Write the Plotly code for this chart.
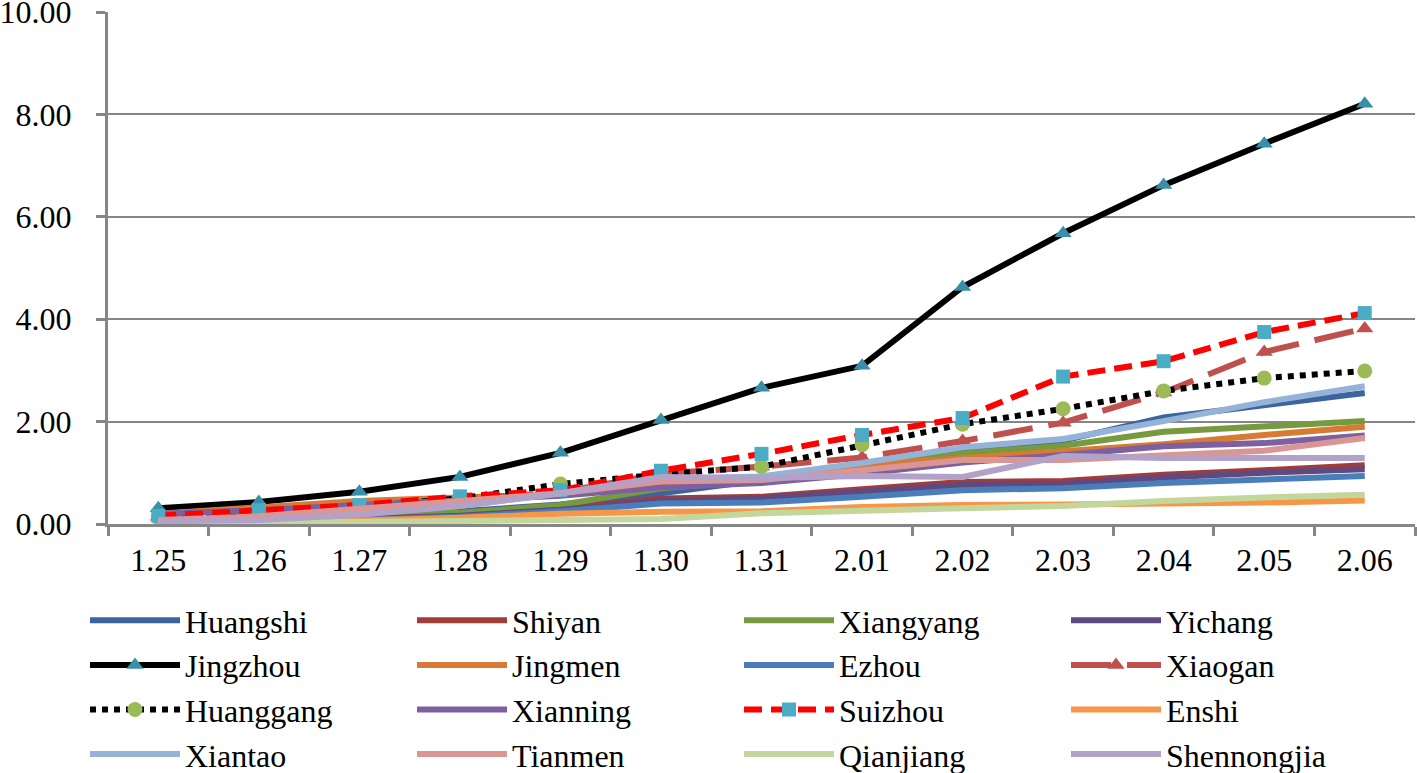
import plotly.graph_objects as go

dates = ["1.25", "1.26", "1.27", "1.28", "1.29", "1.30", "1.31",
         "2.01", "2.02", "2.03", "2.04", "2.05", "2.06"]

huangshi    = [0.05, 0.10, 0.17, 0.25, 0.38, 0.60, 0.85, 1.12, 1.45, 1.63, 2.08, 2.32, 2.56]
shiyan      = [0.03, 0.06, 0.10, 0.18, 0.30, 0.50, 0.53, 0.68, 0.82, 0.84, 0.96, 1.05, 1.15]
xiangyang   = [0.05, 0.10, 0.15, 0.22, 0.37, 0.70, 0.85, 1.10, 1.38, 1.53, 1.80, 1.91, 2.01]
yichang     = [0.03, 0.05, 0.10, 0.16, 0.28, 0.45, 0.50, 0.63, 0.76, 0.78, 0.91, 1.00, 1.07]
jingzhou    = [0.31, 0.43, 0.63, 0.92, 1.39, 2.03, 2.66, 3.09, 4.63, 5.68, 6.62, 7.43, 8.21]
jingmen     = [0.20, 0.33, 0.45, 0.52, 0.58, 0.72, 0.88, 1.15, 1.28, 1.42, 1.56, 1.74, 1.90]
ezhou       = [0.02, 0.04, 0.08, 0.14, 0.25, 0.40, 0.42, 0.53, 0.66, 0.70, 0.80, 0.87, 0.94]
xiaogan     = [0.14, 0.22, 0.32, 0.48, 0.62, 0.98, 1.12, 1.30, 1.62, 1.98, 2.57, 3.36, 3.82]
huanggang   = [0.13, 0.22, 0.34, 0.50, 0.78, 0.97, 1.12, 1.55, 1.95, 2.25, 2.60, 2.85, 2.99]
xianning    = [0.20, 0.27, 0.37, 0.45, 0.55, 0.72, 0.80, 0.98, 1.20, 1.35, 1.52, 1.58, 1.73]
suizhou     = [0.16, 0.27, 0.37, 0.54, 0.66, 1.04, 1.37, 1.74, 2.07, 2.88, 3.18, 3.75, 4.12]
enshi       = [0.02, 0.04, 0.07, 0.12, 0.20, 0.24, 0.25, 0.33, 0.37, 0.38, 0.39, 0.42, 0.46]
xiantao     = [0.05, 0.10, 0.20, 0.35, 0.60, 0.88, 0.93, 1.19, 1.50, 1.66, 2.01, 2.38, 2.69]
tianmen     = [0.08, 0.15, 0.30, 0.45, 0.60, 0.83, 0.86, 1.05, 1.25, 1.25, 1.35, 1.43, 1.68]
qianjiang   = [0.01, 0.02, 0.04, 0.06, 0.08, 0.10, 0.21, 0.27, 0.31, 0.35, 0.45, 0.52, 0.57]
shennongjia = [0.05, 0.08, 0.18, 0.35, 0.60, 0.92, 0.90, 0.94, 0.92, 1.33, 1.29, 1.29, 1.29]

y_ticks = [0, 2, 4, 6, 8, 10]

series = [
    ("Huangshi", huangshi, dict(color="#3B64A0", width=6), None),
    ("Shiyan", shiyan, dict(color="#A23C3A", width=6), None),
    ("Xiangyang", xiangyang, dict(color="#779A3E", width=6), None),
    ("Yichang", yichang, dict(color="#5F4A80", width=6), None),
    ("Jingzhou", jingzhou, dict(color="#000000", width=6),
     dict(symbol="triangle-up", size=15, color="#3A8FA8")),
    ("Jingmen", jingmen, dict(color="#D77A33", width=6), None),
    ("Ezhou", ezhou, dict(color="#4A7EBB", width=6), None),
    ("Xiaogan", xiaogan, dict(color="#C0504D", width=6, dash="40px,16px"),
     dict(symbol="triangle-up", size=15, color="#C0504D")),
    ("Huanggang", huanggang, dict(color="#000000", width=6, dash="6px,6px"),
     dict(symbol="circle", size=15, color="#9BBB59")),
    ("Xianning", xianning, dict(color="#7E60A0", width=6), None),
    ("Suizhou", suizhou, dict(color="#FF0000", width=6, dash="18px,9px"),
     dict(symbol="square", size=14, color="#4BACC6")),
    ("Enshi", enshi, dict(color="#F79646", width=6), None),
    ("Xiantao", xiantao, dict(color="#95B3D7", width=6), None),
    ("Tianmen", tianmen, dict(color="#D99694", width=6), None),
    ("Qianjiang", qianjiang, dict(color="#C3D69B", width=6), None),
    ("Shennongjia", shennongjia, dict(color="#B3A2C7", width=6), None),
]

fig = go.Figure()
for name, vals, line, marker in series:
    if marker is None:
        fig.add_trace(go.Scatter(x=dates, y=vals, name=name, mode="lines", line=line))
    else:
        fig.add_trace(go.Scatter(x=dates, y=vals, name=name, mode="lines+markers",
                                 line=line, marker=marker))

W, H = 1417, 773
font_family = "Liberation Serif, Times New Roman, serif"
fig.update_layout(
    width=W, height=H,
    margin=dict(l=108, r=2, t=12, b=249),
    plot_bgcolor="white", paper_bgcolor="white",
    font=dict(family=font_family, size=32, color="black"),
    legend=dict(
        orientation="h",
        xref="container", yref="container",
        x=85 / W, y=1 - 593 / H, xanchor="left", yanchor="top",
        entrywidth=222, entrywidthmode="pixels",
        itemwidth=90,
        font=dict(family=font_family, size=32, color="black"),
        traceorder="normal",
        tracegroupgap=0,
    ),
    showlegend=True,
)
fig.update_xaxes(
    type="category",
    automargin=False,
    showgrid=False,
    showline=True, linecolor="#868686", linewidth=3,
    ticks="outside", ticklen=9, tickcolor="#868686", tickwidth=3,
    tickson="boundaries",
    tickfont=dict(family=font_family, size=32),
    ticklabelstandoff=6,
    range=[-0.5, 12.5],
)
fig.update_yaxes(
    automargin=False,
    range=[0, 10.002],
    tickmode="array", tickvals=y_ticks,
    ticktext=[f"{v:.2f}" for v in y_ticks],
    ticklabeloverflow="allow",
    showgrid=True, gridcolor="#868686", gridwidth=2,
    showline=True, linecolor="#868686", linewidth=3,
    ticks="outside", ticklen=9, tickcolor="#868686", tickwidth=3,
    tickfont=dict(family=font_family, size=32),
    ticklabelstandoff=18,
    zeroline=False,
)
fig.write_html(
    "out.html",
    config={"displayModeBar": False},
    post_script="document.body.style.margin='0';document.body.style.padding='0';",
)
